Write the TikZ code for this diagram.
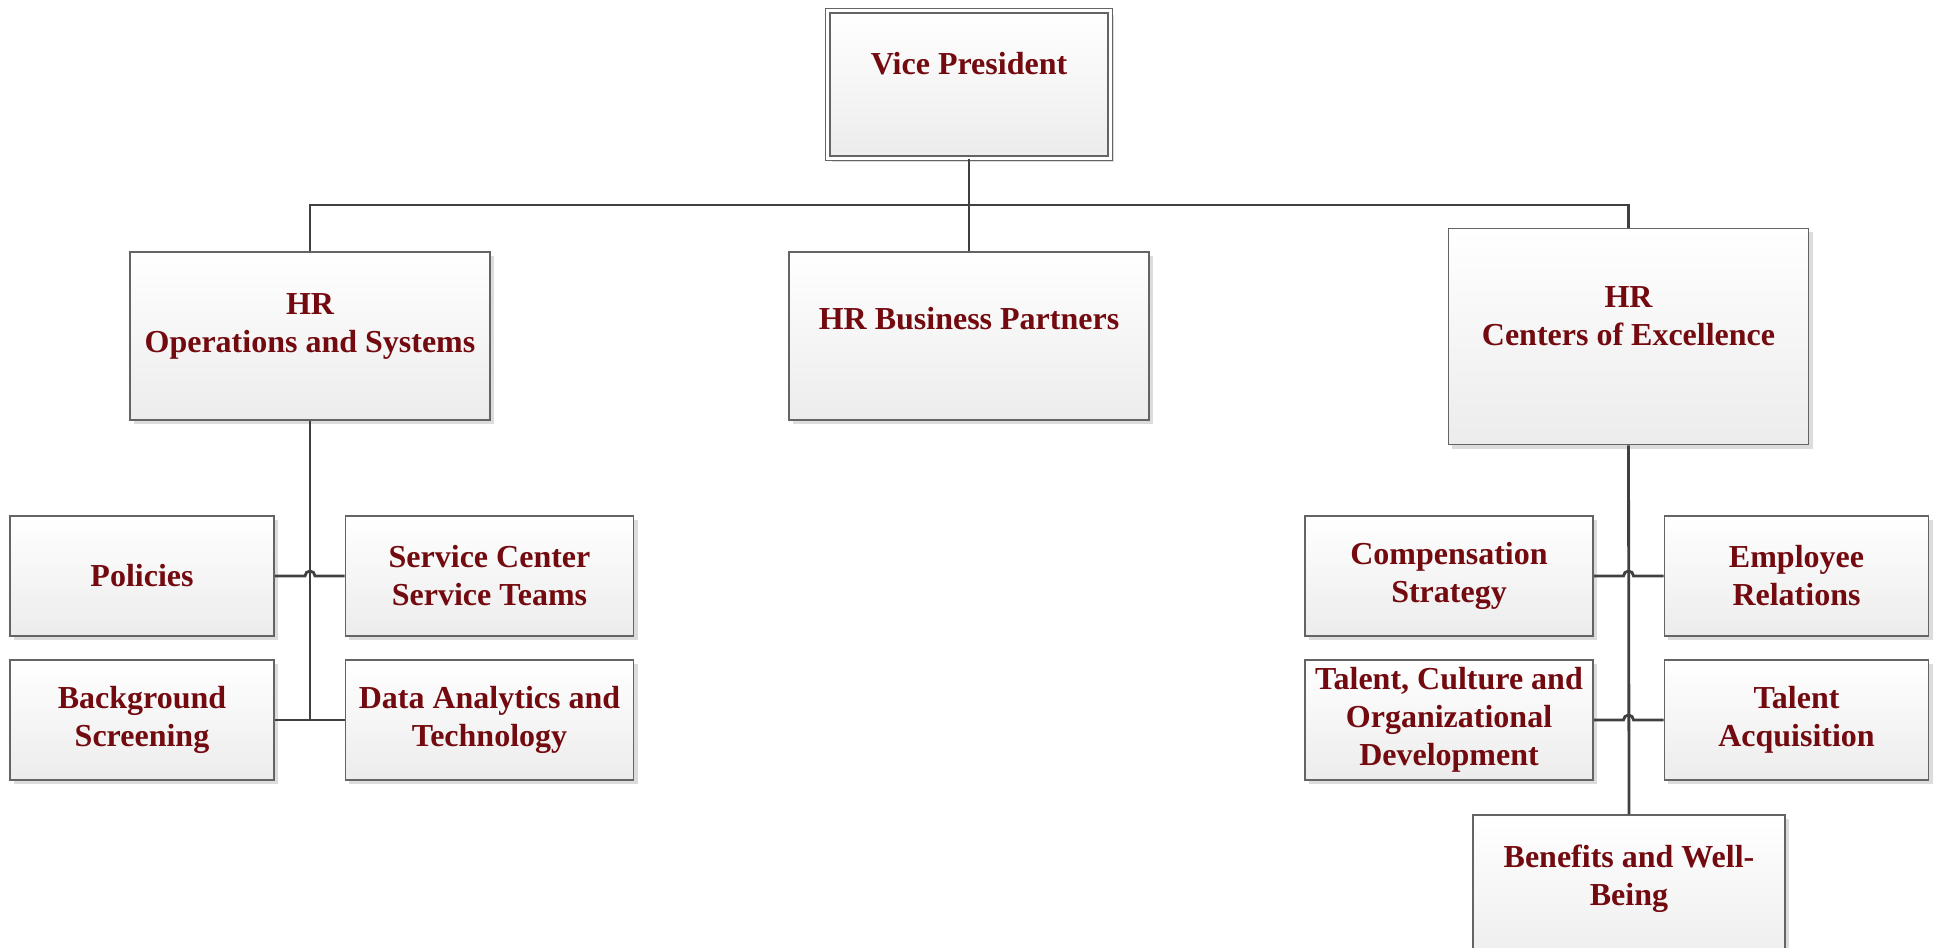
\documentclass[tikz,border=0pt]{standalone}
\usepackage{fontspec}
\setmainfont{Liberation Serif}
\usetikzlibrary{calc, shadows}

\definecolor{BoxText}{RGB}{115,10,15}
\definecolor{BoxLine}{RGB}{100,100,100}
\definecolor{BoxFill}{RGB}{236,236,236}
\definecolor{LinkLine}{RGB}{64,64,64}
\definecolor{ShadowGray}{RGB}{220,220,220}

\newcommand{\upshift}[2][0.18cm]{\raisebox{#1}[\height][\depth]{%
    \begin{tabular}{@{}c@{}}#2\end{tabular}}}

\tikzset{
    orgbox/.style={draw=BoxLine, line width=0.4pt, top color=white,
        bottom color=BoxFill, text=BoxText, align=center, inner sep=0pt,
        font=\fontsize{9.1}{10.8}\selectfont\bfseries,
        drop shadow={shadow xshift=0.04cm, shadow yshift=-0.04cm,
            fill=ShadowGray, opacity=1}},
    smallbox/.style={orgbox, minimum width=2.64cm, minimum height=1.2cm},
    widebox/.style={orgbox, minimum width=2.88cm, minimum height=1.2cm},
    bigbox/.style={orgbox, minimum width=3.6cm, minimum height=1.68cm},
    link/.style={draw=LinkLine, line width=0.8pt},
    hop/.style={radius=0.05cm, start angle=180, end angle=0}
}

\begin{document}
\begin{tikzpicture}[x=0.01cm, y=0.01cm]
        \useasboundingbox (0,0) rectangle (1939,-947);
        \clip (0,0) rectangle (1939,-947);

        % define top level
        \coordinate (VP) at (969,-84.5);
        \coordinate (bus) at (969,-205);
        \coordinate (OPS) at (310,-336);
        \coordinate (BP) at (969,-336);
        \coordinate (COE) at (1628.5,-336.5);

        % draw top level
        \node[orgbox, double=white, double distance=0.03cm,
            minimum width=2.82cm, minimum height=1.47cm] (vp) at (VP)
            {\upshift{Vice President}};
        \node[bigbox] (ops) at (OPS)
            {\upshift[0.1cm]{HR\\Operations and Systems}};
        \node[bigbox] (bp) at (BP) {\upshift[0.14cm]{HR Business Partners}};
        \node[bigbox, minimum height=2.16cm] (coe) at (COE)
            {\upshift{HR\\Centers of Excellence}};

        % operations teams
        \node[smallbox] (pol) at (142,-576) {Policies};
        \node[widebox] (svc) at (489.5,-576) {Service Center\\Service Teams};
        \node[smallbox] (bg) at (142,-720) {Background\\Screening};
        \node[widebox] (data) at (489.5,-720) {Data Analytics and\\Technology};

        % centers of excellence teams
        \node[widebox] (comp) at (1449,-576) {Compensation\\Strategy};
        \node[smallbox] (emp) at (1796.5,-576) {Employee\\Relations};
        \node[widebox] (tcd) at (1449,-720)
            {Talent, Culture and\\Organizational\\Development};
        \node[smallbox] (acq) at (1796.5,-720) {Talent\\Acquisition};
        \node[orgbox, minimum width=3.12cm, minimum height=1.6cm] (ben)
            at (1629,-895) {\upshift[0.16cm]{Benefits and Well-\\Being}};

        % links from the top
        \draw[link] (vp) -- (bp);
        \draw[link] (ops.north) |- (bus) -| (coe.north);

        % links on the left
        \draw[link] (ops.south) -- (ops.south |- bg.east);
        \draw[link] (bg.east) -- (data.west);
        \draw[link] (pol.east) -- ($(pol.east -| ops.south)+(-5,0)$)
            arc[hop] -- (svc.west);

        % links on the right
        \draw[link] (coe.south) -- (ben.north);
        \draw[link] (comp.east) -- ($(comp.east -| coe.south)+(-5,0)$)
            arc[hop] -- (emp.west);
        \draw[link] (tcd.east) -- ($(tcd.east -| coe.south)+(-5,0)$)
            arc[hop] -- (acq.west);
    \end{tikzpicture}
\end{document}
